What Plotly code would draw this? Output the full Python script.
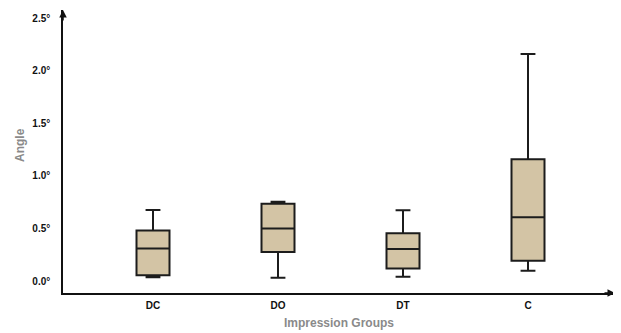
import plotly.graph_objects as go

categories = ["DC", "DO", "DT", "C"]
lower_whisker = [0.035, 0.03, 0.04, 0.098]
q1_values = [0.055, 0.276, 0.12, 0.193]
median_values = [0.31, 0.50, 0.304, 0.605]
q3_values = [0.48, 0.735, 0.453, 1.157]
upper_whisker = [0.675, 0.754, 0.672, 2.158]
y_tick_values = [0.0, 0.5, 1.0, 1.5, 2.0, 2.5]
y_tick_labels = ["0.0°", "0.5°", "1.0°", "1.5°", "2.0°", "2.5°"]

fig = go.Figure()
fig.add_trace(go.Box(
    x=categories,
    q1=q1_values,
    median=median_values,
    q3=q3_values,
    lowerfence=lower_whisker,
    upperfence=upper_whisker,
    fillcolor="#D3C4A5",
    line=dict(color="#1c1c1c", width=2),
    width=0.264,
    whiskerwidth=0.45,
    boxpoints=False,
    showlegend=False,
    hoverinfo="skip",
))

xr = [-0.72, 3.696]
yr = [-0.114, 2.576]

# page body has an 8px default margin; figure sized to fill the rest
W, H = 613, 325
L, R, T, B = 55, 6, 2, 40
plot_w = W - L - R
plot_h = H - T - B

fig.update_layout(
    width=W, height=H,
    margin=dict(l=L, r=R, t=T, b=B, autoexpand=False),
    plot_bgcolor="white", paper_bgcolor="white",
    font=dict(family="Liberation Sans, Arial, sans-serif"),
    xaxis=dict(
        range=xr, showgrid=False, zeroline=False, automargin=False,
        showline=True, linecolor="#111", linewidth=1.5,
        ticks="outside", ticklen=2, tickcolor="rgba(0,0,0,0)",
        tickfont=dict(size=10, color="#111", weight="bold"),
    ),
    yaxis=dict(
        range=yr, showgrid=False, zeroline=False, automargin=False,
        showline=True, linecolor="#111", linewidth=1.5,
        tickvals=y_tick_values, ticktext=y_tick_labels,
        ticks="outside", ticklen=9, tickcolor="rgba(0,0,0,0)",
        tickfont=dict(size=10, color="#111", weight="bold"),
    ),
)

fig.add_annotation(x=0.5, y=-30 / plot_h, xref="paper", yref="paper",
                   yanchor="middle", text="Impression Groups", showarrow=False,
                   font=dict(size=12, color="#8a8a8a", weight="bold"))
fig.add_annotation(x=-43 / plot_w, y=148 / plot_h, xref="paper", yref="paper",
                   xanchor="center", showarrow=False,
                   text="Angle", textangle=-90,
                   font=dict(size=12, color="#8a8a8a", weight="bold"))

fig.add_annotation(x=xr[1], y=yr[0], xref="x", yref="y", ax=-12, ay=0,
                   text="", showarrow=True, arrowhead=2, arrowsize=1,
                   arrowwidth=1.5, arrowcolor="#111")
fig.add_annotation(x=xr[0], y=yr[1], xref="x", yref="y", ax=0, ay=12,
                   text="", showarrow=True, arrowhead=2, arrowsize=1,
                   arrowwidth=1.5, arrowcolor="#111")

fig.write_html("out.html")
